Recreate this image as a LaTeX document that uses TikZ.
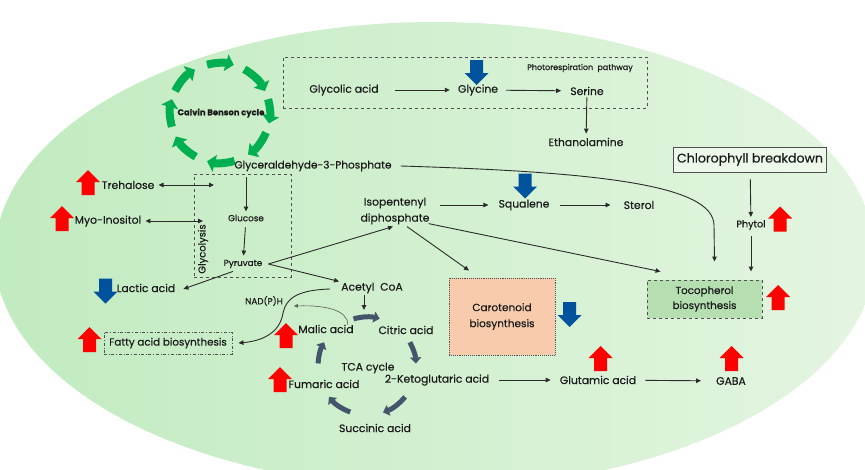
\documentclass[tikz,border=0pt]{standalone}
\usepackage{fontspec}
\setmainfont{Poppins}[FakeBold=0.35]
\usetikzlibrary{arrows.meta,calc}
\definecolor{txt}{HTML}{1A1A1A}
\definecolor{linec}{HTML}{2B2B2B}
\definecolor{bgL}{HTML}{C1EBC0}
\definecolor{bgR}{HTML}{E4F5E1}
\definecolor{cbgreen}{HTML}{00B050}
\definecolor{tcablue}{HTML}{44546A}
\definecolor{upred}{HTML}{FF0000}
\definecolor{downblue}{HTML}{00529C}
\definecolor{carofill}{HTML}{F8CBAD}
\definecolor{tocofill}{HTML}{B6DFB1}
\definecolor{chlfill}{HTML}{EDF8EA}
\definecolor{boxline}{HTML}{505050}
\begin{document}
\begin{tikzpicture}[x=1pt,y=-1pt,
 lbl/.style={font=\fontsize{10.8}{13}\selectfont, text=txt, inner sep=1pt},
 sml/.style={font=\fontsize{8.8}{10}\selectfont, text=txt, inner sep=1pt},
 arr/.style={draw=linec, line width=0.9pt, -{Triangle[length=5pt,width=4.5pt]}},
 darr/.style={draw=linec, line width=0.9pt, {Triangle[length=5pt,width=4.5pt]}-{Triangle[length=5pt,width=4.5pt]}},
 cbarr/.style={draw=cbgreen, line width=8pt, -{Triangle[length=8pt,width=17pt]}},
 tcaarr/.style={draw=tcablue, line width=5pt, -{Triangle[length=6pt,width=11pt]}},
 pics/upA/.style={code={\fill[upred] (-6.5,12.5) -- (-6.5,-0.5) -- (-12,-0.5) -- (0,-12.5) -- (12,-0.5) -- (6.5,-0.5) -- (6.5,12.5) -- cycle;}},
 pics/downA/.style={code={\fill[downblue] (-6.5,-12.5) -- (-6.5,0.5) -- (-12,0.5) -- (0,12.5) -- (12,0.5) -- (6.5,0.5) -- (6.5,-12.5) -- cycle;}},
]
\useasboundingbox (0,0) rectangle (865,469);
\begin{scope}
 \clip (0,0) rectangle (865,469);
 \shade[left color=bgL, right color=bgR] (435,255) ellipse [x radius=440, y radius=233];
\end{scope}

% Calvin Benson cycle
\coordinate (cb) at (220,113);
\foreach \a/\b in {255/286, 299/334, 344/372, 23/56, 73/105, 119/152, 164/196, 206/240}
  \draw[cbarr] ($(cb)+(\a:50)$) arc[start angle=\a, end angle=\b, radius=50];
\node[font=\bfseries\fontsize{8.4}{10}\selectfont, text=txt] (cbtext) at (221,113) {Calvin Benson cycle};

% Photorespiration
\node[draw=boxline, dashed, line width=0.9pt, minimum width=364, minimum height=51] (photobox) at (465,82.5) {};
\node[sml, font=\fontsize{8}{10}\selectfont] (photo) at (580,68) {Photorespiration\ \ pathway};
\node[lbl] (glycolic) at (344,90) {Glycolic acid};
\node[lbl] (glycine) at (478,90) {Glycine};
\node[lbl] (serine) at (587,91) {Serine};
\node[lbl] (ethanol) at (586,142) {Ethanolamine};
\draw[arr, shorten <=15, shorten >=7] (glycolic) -- (glycine);
\draw[arr, shorten <=7, shorten >=8] (glycine) -- (serine);
\draw[arr, shorten <=1, shorten >=3] (serine) -- (ethanol);

% Glycolysis
\node[lbl, font=\fontsize{10.5}{13}\selectfont] (g3p) at (313,166) {Glyceraldehyde-3-Phosphate};
\node[draw=boxline, dashed, line width=0.9pt, minimum width=97, minimum height=103] (glycobox) at (242.5,225.5) {};
\node[sml, font=\fontsize{10}{12}\selectfont, rotate=90] (glyco) at (203,249) {Glycolysis};
\node[sml] (glucose) at (246,218) {Glucose};
\node[sml] (pyruvate) at (243,264) {Pyruvate};
\draw[arr, shorten <=5, shorten >=2] (g3p.south -| glucose) -- (glucose);
\draw[arr, shorten <=5, shorten >=3] (glucose) -- (pyruvate);

\node[lbl] (trehalose) at (128,185) {Trehalose};
\node[lbl] (myo) at (108,221) {Myo-Inositol};
\node[lbl] (lactic) at (146,288) {Lactic acid};
\coordinate (treEnd) at (214,185);
\coordinate (myoEnd) at (203,221);
\draw[darr, shorten <=3] (trehalose.east) -- (treEnd);
\draw[darr, shorten <=3] (myo.east) -- (myoEnd);
\draw[arr] ($(pyruvate.south)+(-10,2)$) -- ($(lactic.east)+(7,1)$);

% Isoprenoids
\coordinate (split) at ($(pyruvate.east)+(5,0)$);
\node[lbl, align=center, font=\fontsize{10.8}{16}\selectfont] (ipp) at (395,211) {Isopentenyl\\diphosphate};
\node[lbl] (squalene) at (524,205) {Squalene};
\node[lbl] (sterol) at (639,205) {Sterol};
\node[lbl, font=\fontsize{10.8}{13}\selectfont] (acetyl) at (372,288) {Acetyl\ \ CoA};
\draw[arr] (split) -- ($(ipp.south)+(-2,1)$);
\draw[arr] (split) -- ($(acetyl.north west)+(-1,0)$);
\draw[arr, shorten >=9] ($(ipp.east |- squalene)+(9,0)$) -- (squalene.west);
\draw[arr, shorten <=9, shorten >=12] (squalene) -- (sterol);

\node[draw=boxline, densely dotted, line width=0.9pt, fill=carofill, minimum width=106, minimum height=77, align=center, lbl, font=\fontsize{10.5}{16}\selectfont] (carot) at (502,316.5) {Carotenoid\\biosynthesis};
\node[draw=boxline, dashed, line width=0.9pt, fill=tocofill, minimum width=115, minimum height=38, align=center, lbl, font=\fontsize{10.3}{15}\selectfont] (toco) at (704.5,299) {Tocopherol\\biosynthesis};
\draw[arr] ($(ipp.south)+(12,1)$) -- ($(carot.north)+(-33,-7)$);
\draw[arr] ($(ipp.south east)+(-2,-2)$) -- ($(toco.north west)+(14,-8)$);
\draw[arr] ($(g3p.east)+(8,0)$) .. controls (600,172) and (713,185) .. (714,225) -- ($(toco.north)+(10,-18)$);

\node[draw=boxline, fill=chlfill, line width=0.9pt, minimum width=152, minimum height=25, font=\fontsize{12.6}{15}\selectfont, text=txt] (chloro) at (750,159.5) {Chlorophyll breakdown};
\node[sml, font=\fontsize{9.6}{11}\selectfont] (phytol) at (751,225) {Phytol};
\draw[arr, shorten <=7, shorten >=2] (chloro) -- (phytol);
\draw[arr, shorten <=5, shorten >=8] (phytol) -- (phytol |- toco.north);

% TCA cycle
\node[sml] (nadph) at (264,301) {NAD(P)H};
\node[lbl] (malic) at (326,329) {Malic acid};
\node[lbl] (citric) at (406,330) {Citric acid};
\node[lbl] (tca) at (368,368) {TCA cycle};
\node[lbl] (keto) at (437,380) {2-Ketoglutaric acid};
\node[lbl] (fumaric) at (324,384) {Fumaric acid};
\node[lbl] (succinic) at (375,428) {Succinic acid};
\node[lbl] (glutamic) at (598,380) {Glutamic acid};
\node[lbl] (gaba) at (731,381) {GABA};
\node[draw=boxline, dash dot, line width=0.9pt, minimum width=128, minimum height=22, lbl, font=\fontsize{10.3}{12}\selectfont] (fatty) at (168,343) {Fatty acid biosynthesis};

\coordinate (tc) at (367,366);
\foreach \a/\b in {254/285, 331/357, 39/71, 110/141, 183/209}
  \draw[tcaarr] ($(tc)+(\a:49)$) arc[start angle=\a, end angle=\b, radius=49];
\coordinate (tcain) at (364,310);
\draw[arr] (acetyl.south -| tcain) -- (tcain);
\draw[arr] ($(acetyl.west)+(-10,1)$) .. controls (298,290) and (286,298) .. (283,313) .. controls (280,333) and (262,341) .. ($(fatty.east)+(6,0)$);
\draw[draw=gray!70!black, line width=0.6pt, -{Triangle[length=4pt,width=3.5pt]}] ($(malic.north east)+(-7,1)$) .. controls (348,310) and (325,305) .. ($(nadph.east)+(10,5)$);
\draw[arr, shorten <=9, shorten >=8] (keto) -- (glutamic);
\draw[arr, shorten <=8, shorten >=14] (glutamic) -- (gaba);

% up / down block arrows
\pic (upTre) at (88,182.5) {upA};
\pic (upMyo) at (62,218.5) {upA};
\pic (upPhy) at (780,219) {upA};
\pic (upToc) at (778,297.5) {upA};
\pic (upMal) at (286,335.5) {upA};
\pic (upFum) at (280,379.5) {upA};
\pic (upFat) at (89.5,339.5) {upA};
\pic (upGlu) at (600.5,358.5) {upA};
\pic (upGab) at (731.5,358.5) {upA};
\pic (dnGly) at (476.5,72.5) {downA};
\pic (dnSqu) at (525,186) {downA};
\pic (dnLac) at (105.5,291) {downA};
\pic (dnCar) at (569.5,314.5) {downA};
\end{tikzpicture}
\end{document}
